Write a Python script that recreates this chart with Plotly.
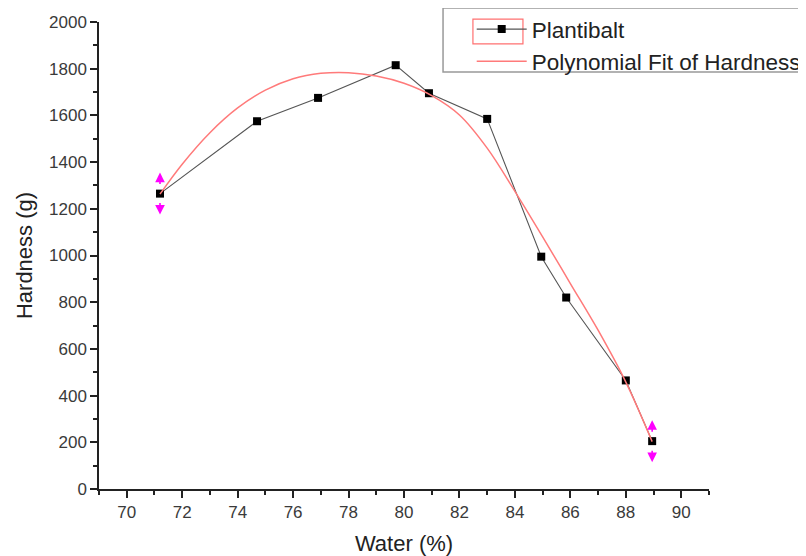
import plotly.graph_objects as go

# Measured data (Plantibalt)
water = [71.2, 74.7, 76.9, 79.7, 80.9, 83.0, 84.95, 85.85, 88.0, 88.95]
hardness = [1265, 1575, 1675, 1815, 1695, 1585, 995, 820, 465, 205]

# Polynomial fit curve
fit_x = [71.2, 72, 73, 74, 75, 76, 77, 78, 79, 80, 81, 82, 83, 84, 85, 86, 87, 88, 88.95]
fit_y = [1263, 1391, 1526, 1632, 1708, 1757, 1780, 1783, 1769, 1738, 1685, 1602,
         1460, 1275, 1080, 880, 680, 458, 203]

x_ticks = [70, 72, 74, 76, 78, 80, 82, 84, 86, 88, 90]
y_ticks = [0, 200, 400, 600, 800, 1000, 1200, 1400, 1600, 1800, 2000]

FONT = "Liberation Sans, Arial, sans-serif"

fig = go.Figure()
fig.add_trace(go.Scatter(
    x=water, y=hardness, mode="lines+markers", name="Plantibalt",
    line=dict(color="#555555", width=1.1),
    marker=dict(symbol="square", size=8, color="black"),
))
fig.add_trace(go.Scatter(
    x=fit_x, y=fit_y, mode="lines", name="Polynomial Fit of Hardness",
    line=dict(color="#ff7a7a", width=1.5, shape="spline", smoothing=1.0),
))

# magenta data-reader arrows on first and last points
for i in (0, len(water) - 1):
    for sign in (1, -1):
        fig.add_annotation(
            x=water[i], y=hardness[i], xref="x", yref="y", text="",
            showarrow=True, arrowhead=2, arrowsize=1.2, arrowwidth=1.6,
            arrowcolor="#ff00ff", ax=0, ay=13 * sign, yshift=21 * sign,
        )

# legend frame (gray) and red selection frame around the first legend symbol
fig.add_shape(
    type="rect", xref="paper", yref="paper",
    x0=0.564, x1=1.2, y0=0.893, y1=1.03,
    line=dict(color="#999999", width=1.5), fillcolor="rgba(0,0,0,0)", layer="above",
)
fig.add_shape(
    type="rect", xref="paper", yref="paper",
    x0=0.613, x1=0.695, y0=0.953, y1=1.006,
    line=dict(color="#ff7070", width=1.2), fillcolor="rgba(0,0,0,0)", layer="above",
)

axis_common = dict(
    showgrid=False, zeroline=False, showline=True, linecolor="#222222",
    linewidth=1.5, ticks="outside", ticklen=7, tickwidth=1.5, automargin=False,
    tickcolor="#222222", tickfont=dict(family=FONT, size=17, color="#3a3a3a"),
)

fig.update_xaxes(
    range=[69, 91], tickmode="array", tickvals=x_ticks,
    ticktext=[str(v) for v in x_ticks],
    minor=dict(dtick=1, tick0=69, ticks="outside", ticklen=4, tickcolor="#222222", tickwidth=1.5),
    title=dict(text="Water (%)", font=dict(family=FONT, size=22, color="#222222"), standoff=14),
    **axis_common,
)
fig.update_yaxes(
    range=[0, 2000], tickmode="array", tickvals=y_ticks,
    ticktext=[str(v) for v in y_ticks],
    minor=dict(dtick=100, tick0=0, ticks="outside", ticklen=4, tickcolor="#222222", tickwidth=1.5),
    title=dict(text="Hardness (g)", font=dict(family=FONT, size=22, color="#222222"), standoff=10),
    **axis_common,
)

# page body has an 8px margin, so the figure is sized/offset to land the
# plot area at the same pixels as the reference
fig.update_layout(
    width=798, height=548,
    margin=dict(l=91, r=97, t=14, b=67, autoexpand=False),
    paper_bgcolor="white", plot_bgcolor="white",
    showlegend=True,
    legend=dict(
        x=0.611, y=1.03, xanchor="left", yanchor="top",
        bgcolor="rgba(255,255,255,0)", borderwidth=0,
        font=dict(family=FONT, size=22.5, color="#222222"),
        itemwidth=50,
    ),
)

fig.write_html("out.html")
